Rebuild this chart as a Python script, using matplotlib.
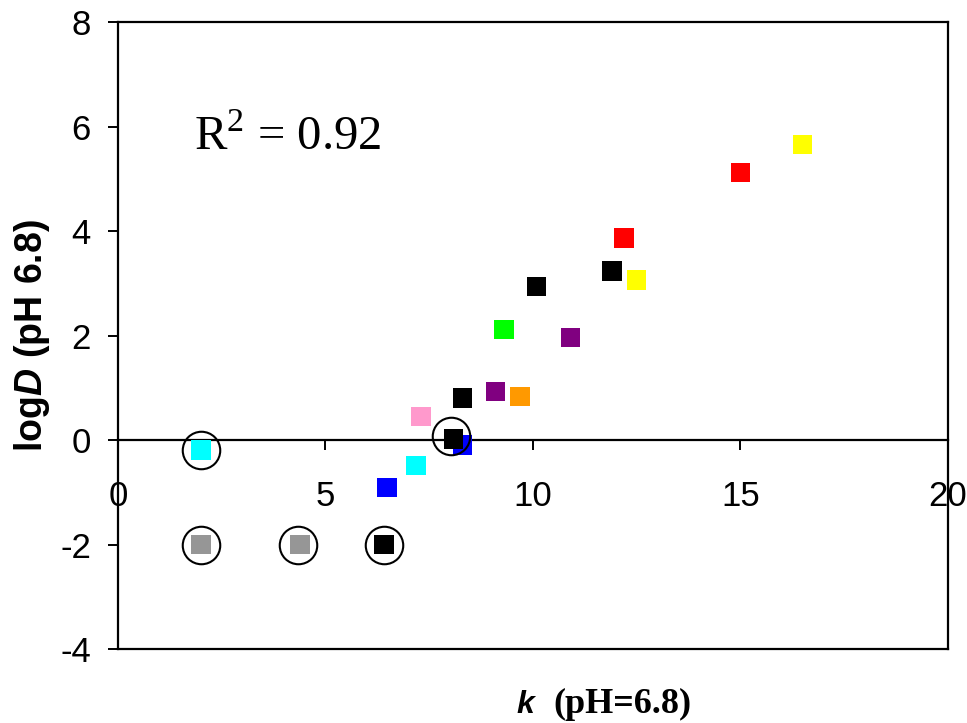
import matplotlib
matplotlib.use('Agg')
import matplotlib.pyplot as plt

plt.rcParams['font.family'] = ['Liberation Sans', 'DejaVu Sans']
plt.rcParams['axes.unicode_minus'] = False
plt.rcParams['mathtext.fontset'] = 'custom'
plt.rcParams['mathtext.rm'] = 'Liberation Serif'
plt.rcParams['mathtext.bf'] = 'Liberation Sans:bold'
plt.rcParams['mathtext.it'] = 'Liberation Sans:bold:italic'

# data
k_values = [2.0, 2.0, 4.39, 6.41, 6.48, 7.18, 7.30, 8.30, 8.09, 8.30, 9.10, 9.69,
            9.30, 10.91, 10.09, 11.90, 12.50, 12.19, 15.0, 16.50]
logd_values = [-0.19, -2.0, -2.0, -2.0, -0.91, -0.49, 0.45, -0.09, 0.02, 0.81, 0.93, 0.84,
               2.12, 1.97, 2.94, 3.24, 3.07, 3.87, 5.13, 5.66]
point_colors = ['#00FFFF', '#969696', '#969696', '#000000', '#0000FF', '#00FFFF', '#FF99CC',
                '#0000FF', '#000000', '#000000', '#800080', '#FF9900', '#00FF00', '#800080',
                '#000000', '#000000', '#FFFF00', '#FF0000', '#FF0000', '#FFFF00']

# circled outliers
circle_k = [2.0, 2.0, 4.35, 6.40, 8.03]
circle_logd = [-0.19, -2.01, -2.01, -2.01, 0.08]

x_ticks = [0, 5, 10, 15, 20]
y_ticks = [-4, -2, 0, 2, 4, 6, 8]
r2_text = r'R$^\mathrm{2}$ = 0.92'

fig = plt.figure(figsize=(9.67, 7.23), dpi=100)
ax = fig.add_axes([0.122, 0.1024, 0.8583, 0.8665])

ax.scatter(k_values, logd_values, c=point_colors, marker='s', s=196, linewidths=0, zorder=3)
ax.plot(circle_k, circle_logd, linestyle='none', marker='o', markersize=27,
        markerfacecolor='none', markeredgecolor='k', markeredgewidth=1.5, zorder=4)

ax.set_xlim(0, 20)
ax.set_ylim(-4, 8)
ax.set_xticks(x_ticks)
ax.set_yticks(y_ticks)

for side in ['left', 'right', 'top', 'bottom']:
    ax.spines[side].set_linewidth(1.6)
ax.spines['bottom'].set_position(('data', 0))
ax.axhline(-4, color='k', lw=1.6, clip_on=False, zorder=2.5)

ax.tick_params(axis='x', direction='out', length=7.5, width=1.4, pad=21, labelsize=25)
ax.tick_params(axis='y', direction='out', length=7.5, width=1.4, pad=12, labelsize=25)

ax.set_ylabel(r'$\mathbf{log}\mathit{D}\mathbf{\ (pH\ 6.8)}$', fontsize=27)
ax.yaxis.set_label_coords(-0.08, 0.5)

# x label: sans bold italic k, then serif bold text
fig.text(516 / 967, 10 / 723, 'k', fontsize=23, fontweight='bold', fontstyle='italic',
         ha='left', va='baseline')
fig.text(553 / 967, 10 / 723, '(pH=6.8)', family='Liberation Serif', fontsize=26,
         fontweight='bold', ha='left', va='baseline')

ax.text(1.84, 5.55, r2_text, family='Liberation Serif', fontsize=35, va='baseline')

fig.savefig('out.png', dpi=100)
